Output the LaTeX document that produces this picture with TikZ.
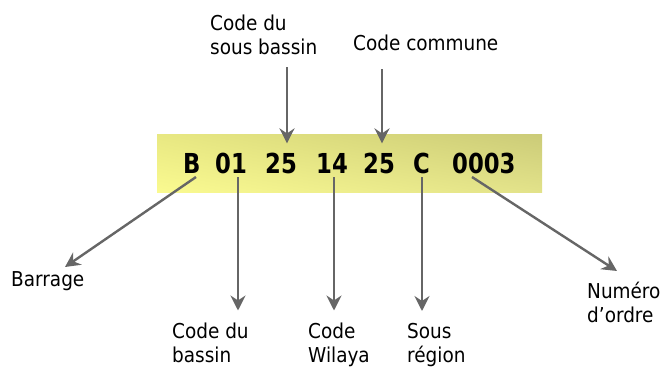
\documentclass[tikz,border=0pt]{standalone}
\usepackage{fontspec}
\setmainfont{DejaVu Sans Condensed}
\newfontfamily\codefont{DejaVu Sans Condensed}[FakeStretch=0.92]
\usetikzlibrary{arrows.meta}
\usetikzlibrary{calc}
\usetikzlibrary{shadings}
\definecolor{arrgray}{HTML}{666666}
\definecolor{bandUL}{RGB}{232,232,130}
\definecolor{bandUR}{RGB}{203,203,120}
\definecolor{bandLL}{RGB}{250,250,144}
\definecolor{bandLR}{RGB}{226,226,138}
\tikzset{
  lbl/.style={anchor=north west, inner sep=0pt, align=left,
    font=\fontsize{20.5}{24}\selectfont},
  piece/.style={anchor=base west, inner sep=0pt,
    font=\codefont\bfseries\fontsize{27.5}{30}\selectfont},
  arr/.style={draw=arrgray, line width=2.4pt,
    -{Stealth[length=15pt, width=15pt, inset=5pt]}}
}
\begin{document}
\begin{tikzpicture}[x=1pt,y=-1pt]
  \useasboundingbox (0,0) rectangle (665,367);
  % code band
  \shade[upper left=bandUL, upper right=bandUR,
         lower left=bandLL, lower right=bandLR]
    (157,134) rectangle (542,192);
  \foreach \t/\x/\n in {B/183/pB,01/215/p01,25/265/p25a,14/316/p14,
                        25/363/p25b,C/413/pC,0003/452/pOrd}
    \node[piece] (\n) at (\x,173) {\t};
  % labels
  \node[lbl] (ssb) at (210,14.5) {Code du\\sous bassin};
  \node[lbl] (com) at (353,34.5) {Code commune};
  \node[lbl] (bar) at (11,271) {Barrage};
  \node[lbl] (bas) at (172,322.5) {Code du\\bassin};
  \node[lbl] (wil) at (308,322.5) {Code\\Wilaya};
  \node[lbl] (sreg) at (407,323) {Sous\\r\'egion};
  \node[lbl] (num) at (587,282) {Num\'ero\\d'ordre};
  % arrows
  \coordinate (t1) at (287,67);
  \coordinate (t2) at (382,69);
  \draw[arr, shorten >=9pt] (t1) -- (t1 |- p25a.north);
  \draw[arr, shorten >=9pt] (t2) -- (t2 |- p25b.north);
  \coordinate (bB) at (196,177);
  \coordinate (b01) at (238,177);
  \coordinate (b14) at (334,177);
  \coordinate (bC) at (422,177);
  \coordinate (bOrd) at (472,177);
  \draw[arr] (bB) -- ($(bar.north west)+(54,-4)$);
  \draw[arr, shorten >=12pt] (b01) -- (b01 |- bas.north);
  \draw[arr, shorten >=12pt] (b14) -- (b14 |- wil.north);
  \draw[arr, shorten >=12pt] (bC) -- (bC |- sreg.north);
  \draw[arr] (bOrd) -- ($(num.north west)+(30,-11)$);
\end{tikzpicture}
\end{document}
